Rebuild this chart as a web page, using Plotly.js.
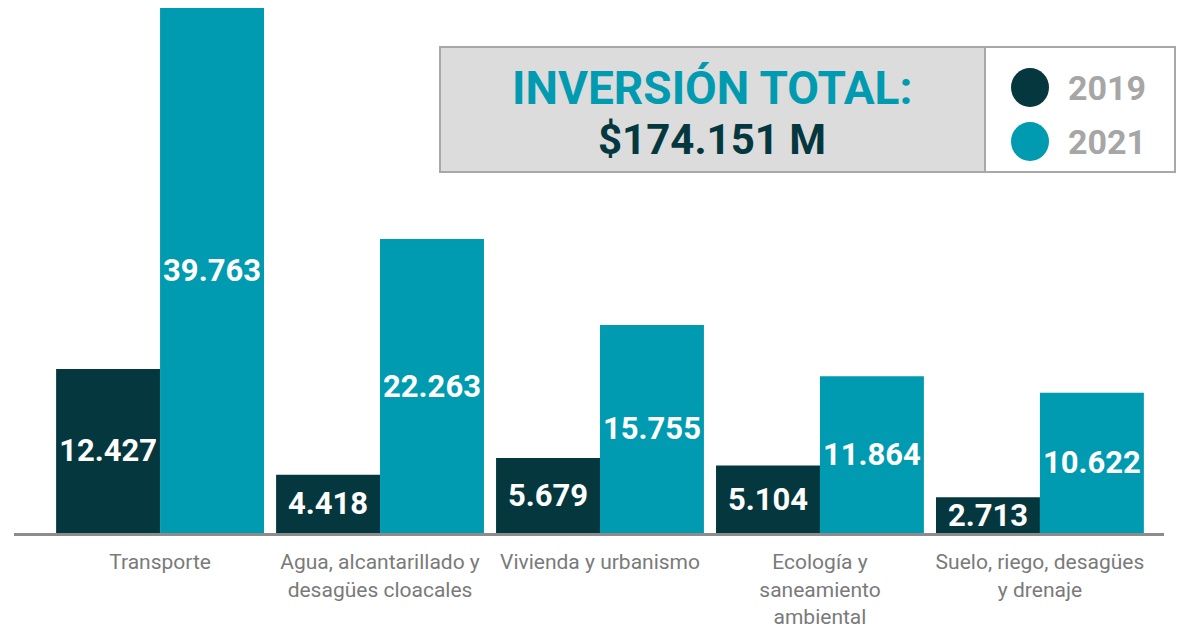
<!DOCTYPE html>
<html>
<head>
<meta charset="utf-8">
<script src="https://cdn.plot.ly/plotly-3.0.1.min.js"></script>
<style>
  body { margin: 0; background: #fff; }
  #chart { width: 1178px; height: 628px; }
</style>
</head>
<body>
<div id="chart"></div>
<script>
var categories = [
  'Transporte',
  'Agua, alcantarillado y<br>desagües cloacales',
  'Vivienda y urbanismo',
  'Ecología y<br>saneamiento<br>ambiental',
  'Suelo, riego, desagües<br>y drenaje'
];
var years = ['2019', '2021'];
var values2019 = [12.427, 4.418, 5.679, 5.104, 2.713];
var values2021 = [39.763, 22.263, 15.755, 11.864, 10.622];
var totalLabel = 'INVERSIÓN TOTAL:';
var totalValue = '$174.151 M';

var darkColor = '#04373e';
var tealColor = '#009bb0';

// plot area in pixels: x 14..1164, y 0..533
function px(x) { return (x - 14) / 1150; }
function py(y) { return (533 - y) / 533; }

function barTrace(name, vals, color) {
  return {
    type: 'bar',
    name: name,
    x: [0, 1, 2, 3, 4],
    y: vals,
    marker: { color: color },
    texttemplate: '%{y:.3f}',
    textposition: 'inside',
    insidetextanchor: 'middle',
    constraintext: 'none',
    textangle: 0,
    textfont: { family: 'Roboto, sans-serif', size: 31, color: '#ffffff', weight: 700 },
    hoverinfo: 'none',
    showlegend: false
  };
}

var data = [
  barTrace(years[0], values2019, darkColor),
  barTrace(years[1], values2021, tealColor)
];

var shapes = [
  // total box
  { type: 'rect', xref: 'paper', yref: 'paper', x0: px(440), x1: px(985), y0: py(172), y1: py(47),
    fillcolor: '#dcdcdc', line: { color: '#a8a8a8', width: 2 } },
  { type: 'rect', xref: 'paper', yref: 'paper', x0: px(985), x1: px(1175), y0: py(172), y1: py(47),
    fillcolor: '#ffffff', line: { color: '#a8a8a8', width: 2 } },
  // legend dots
  { type: 'circle', xref: 'paper', yref: 'paper', x0: px(1011), x1: px(1049), y0: py(107), y1: py(68),
    fillcolor: darkColor, line: { width: 0 } },
  { type: 'circle', xref: 'paper', yref: 'paper', x0: px(1011), x1: px(1049), y0: py(161), y1: py(122),
    fillcolor: tealColor, line: { width: 0 } }
];

var annotations = [
  { xref: 'paper', yref: 'paper', x: px(712), y: py(88), text: '<b>' + totalLabel + '</b>', showarrow: false,
    xanchor: 'center', yanchor: 'middle', font: { family: 'Roboto, sans-serif', size: 46, color: tealColor } },
  { xref: 'paper', yref: 'paper', x: px(712), y: py(139), text: '<b>' + totalValue + '</b>', showarrow: false,
    xanchor: 'center', yanchor: 'middle', font: { family: 'Roboto, sans-serif', size: 42, color: darkColor } },
  { xref: 'paper', yref: 'paper', x: px(1066), y: py(88), text: '<b>' + years[0] + '</b>', showarrow: false,
    xanchor: 'left', yanchor: 'middle', font: { family: 'Roboto, sans-serif', size: 34, color: '#a6a6a6' } },
  { xref: 'paper', yref: 'paper', x: px(1066), y: py(142), text: '<b>' + years[1] + '</b>', showarrow: false,
    xanchor: 'left', yanchor: 'middle', font: { family: 'Roboto, sans-serif', size: 34, color: '#a6a6a6' } }
];

var layout = {
  width: 1178,
  height: 628,
  margin: { l: 14, r: 14, t: 0, b: 95 },
  paper_bgcolor: '#ffffff',
  plot_bgcolor: '#ffffff',
  barmode: 'group',
  bargap: 0.055,
  bargroupgap: 0,
  xaxis: {
    range: [-0.664, 4.564],
    tickvals: [0, 1, 2, 3, 4],
    ticktext: categories,
    showgrid: false,
    zeroline: false,
    showline: true,
    linecolor: '#8c8c8c',
    linewidth: 3,
    ticks: 'outside',
    ticklen: 8,
    tickcolor: 'rgba(0,0,0,0)',
    tickfont: { family: 'Roboto, sans-serif', size: 21, color: '#7a7a7a' }
  },
  yaxis: {
    range: [0, 40.37],
    visible: false,
    showgrid: false,
    zeroline: false
  },
  shapes: shapes,
  annotations: annotations
};

Plotly.newPlot('chart', data, layout, { displayModeBar: false, staticPlot: true });
</script>
</body>
</html>
